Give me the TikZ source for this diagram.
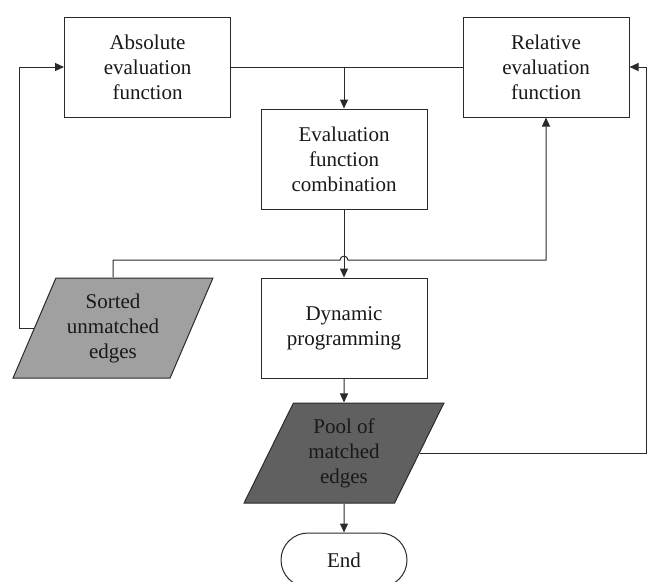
\documentclass[tikz,border=0pt]{standalone}
\usepackage{fontspec}
\setmainfont{Liberation Serif}
\usepackage{xcolor}
\usetikzlibrary{arrows.meta,positioning,shapes.geometric,shapes.misc}

\definecolor{lightio}{HTML}{A0A0A0}
\definecolor{darkio}{HTML}{606060}
\definecolor{inkline}{HTML}{2A2A2A}

\begin{document}
\begin{tikzpicture}[x=1pt, y=-1pt,
  box/.style={rectangle, draw=inkline, fill=white, line width=1pt, minimum width=166pt, minimum height=100pt, inner sep=0pt, align=center, font=\fontsize{21}{25}\selectfont, text=black!90},
  iobox/.style={trapezium, trapezium left angle=63.4, trapezium right angle=116.6, trapezium stretches=true, draw=inkline, line width=1pt, minimum width=200pt, minimum height=100pt, inner sep=0pt, align=center, font=\fontsize{21}{25}\selectfont, text=black!90},
  termbox/.style={rounded rectangle, draw=inkline, fill=white, line width=1pt, minimum width=126pt, minimum height=54pt, inner sep=0pt, font=\fontsize{21}{25}\selectfont, text=black!90},
  arrow/.style={-{Triangle[length=9pt, width=8pt]}, line width=1pt, color=inkline},
  bus/.style={line width=1pt, color=inkline}
]
\useasboundingbox (0,0) rectangle (650,581);

% Top row: evaluation functions
\node[box] (absf) at (147.5,67) {Absolute\\evaluation\\function};
\node[box] (relf) at (546,67) {Relative\\evaluation\\function};

% Middle column
\node[box] (comb) at (344,159) {Evaluation\\function\\combination};
\node[box] (dynp) at (344,328) {Dynamic\\programming};
\node[iobox, fill=lightio] (sorted) at (113,328) {Sorted\\unmatched\\edges};
\node[iobox, fill=darkio] (pool) at (344,453) {Pool of\\matched\\edges};
\node[termbox] (endt) at (344,560) {End};

% Bus lines for the feedback loops
\coordinate (lbus) at (19,0);
\coordinate (rbus) at (646,0);
\coordinate (hopY) at (0,260);

\draw[bus] (absf.east) -- (relf.west);
\draw[arrow] (comb.north |- absf.east) -- (comb.north);

\draw[arrow] (sorted.west) -- (sorted.west -| lbus) |- (absf.west);

% Line from sorted edges hops over the combination output
\draw[arrow] (sorted.north) -- (sorted.north |- hopY) -- ([xshift=-4pt]comb.south |- hopY)
  .. controls ([xshift=-4pt,yshift=5pt]comb.south |- hopY) and ([xshift=4pt,yshift=5pt]comb.south |- hopY) .. ([xshift=4pt]comb.south |- hopY)
  -- (relf.south |- hopY) -- (relf.south);

\draw[arrow] (comb.south) -- (dynp.north);
\draw[arrow] (dynp.south) -- (pool.north);
\draw[arrow] (pool.east) -- (pool.east -| rbus) |- (relf.east);
\draw[arrow] (pool.south) -- (endt.north);

\end{tikzpicture}
\end{document}
